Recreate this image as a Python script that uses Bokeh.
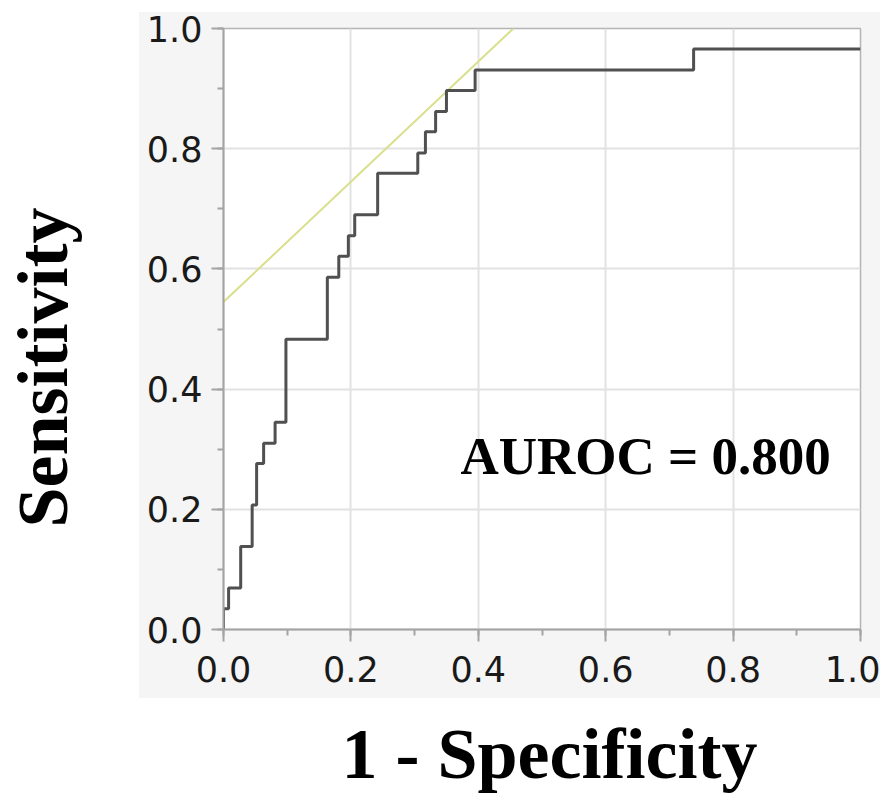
from bokeh.plotting import figure
from bokeh.models import (Range1d, SingleIntervalTicker, NumeralTickFormatter,
                          Label, Title)
from bokeh.embed import file_html
from bokeh.resources import INLINE

# ROC curve corner points (start of each horizontal run)
fpr = [0, 0, 0.008, 0.027, 0.045, 0.052, 0.063, 0.081, 0.098, 0.163, 0.181,
       0.196, 0.206, 0.242, 0.305, 0.317, 0.333, 0.350, 0.395, 0.738, 1.0]
tpr = [0, 0.0345, 0.069, 0.138, 0.207, 0.276, 0.310, 0.345, 0.483, 0.586, 0.621,
       0.655, 0.690, 0.759, 0.793, 0.828, 0.862, 0.897, 0.931, 0.966, 0.966]

# tangent (Youden) line
tangent_x = [0.0, 0.455]
tangent_y = [0.545, 1.0]

auroc_text = "AUROC = 0.800"
x_label = "1 - Specificity"
y_label = "Sensitivity"

p = figure(width=880, height=793, output_backend="svg", toolbar_location=None,
           x_range=Range1d(0, 1), y_range=Range1d(0, 1),
           min_border_left=223, min_border_right=20, min_border_top=28, min_border_bottom=163)
p.background_fill_color = "white"
p.border_fill_color = None
p.outline_line_color = "#b4b4b4"
p.outline_line_width = 1.5
# light grey panel behind the plot area (page background)
p.styles = {
    "background-color": "white",
    "background-image": "linear-gradient(#f5f5f5, #f5f5f5)",
    "background-repeat": "no-repeat",
    "background-position": "139px 12px",
    "background-size": "741px 686px",
}

for ax in (p.xaxis[0], p.yaxis[0]):
    ax.ticker = SingleIntervalTicker(interval=0.2, num_minor_ticks=2)
    ax.formatter = NumeralTickFormatter(format="0.0")
    ax.axis_line_color = "#a4a4a4"
    ax.axis_line_width = 2
    ax.major_tick_line_color = "#a4a4a4"
    ax.major_tick_line_width = 2
    ax.minor_tick_line_color = "#a4a4a4"
    ax.minor_tick_line_width = 2
    ax.major_tick_in = 0
    ax.major_tick_out = 12
    ax.minor_tick_in = 0
    ax.minor_tick_out = 6
    ax.major_label_text_font = "DejaVu Sans"
    ax.major_label_text_font_size = "35px"
    ax.major_label_text_color = "#1a1a1a"
p.yaxis[0].major_label_standoff = 9
p.xaxis[0].major_label_standoff = 14

for g in (p.xgrid[0], p.ygrid[0]):
    g.ticker = SingleIntervalTicker(interval=0.2)
    g.grid_line_color = "#e2e2e2"
    g.grid_line_width = 2


def spacer(size):
    # blank title used only to reserve space in a side panel
    return Title(text=" ", text_font_size="1px", standoff=size, text_color="black")


p.add_layout(spacer(57), "left")
p.add_layout(Title(text=y_label, align="left", offset=102, vertical_align="middle", standoff=0,
                   text_font="Liberation Serif", text_font_style="bold",
                   text_font_size="72px", text_color="black"), "left")
p.add_layout(spacer(24), "below")
p.add_layout(Title(text=x_label, align="left", offset=118, vertical_align="bottom", standoff=0,
                   text_font="Liberation Serif", text_font_style="bold",
                   text_font_size="72px", text_color="black"), "below")

p.line(tangent_x, tangent_y, line_color="#d9df8a", line_width=2)
p.step(fpr, tpr, mode="after", line_color="#505050", line_width=3)

p.add_layout(Label(x=0.372, y=0.289, text=auroc_text, text_font="Liberation Serif",
                   text_font_style="bold", text_font_size="53px", text_color="black",
                   text_baseline="middle", text_align="left"))

open("out.html", "w").write(file_html(p, INLINE))
